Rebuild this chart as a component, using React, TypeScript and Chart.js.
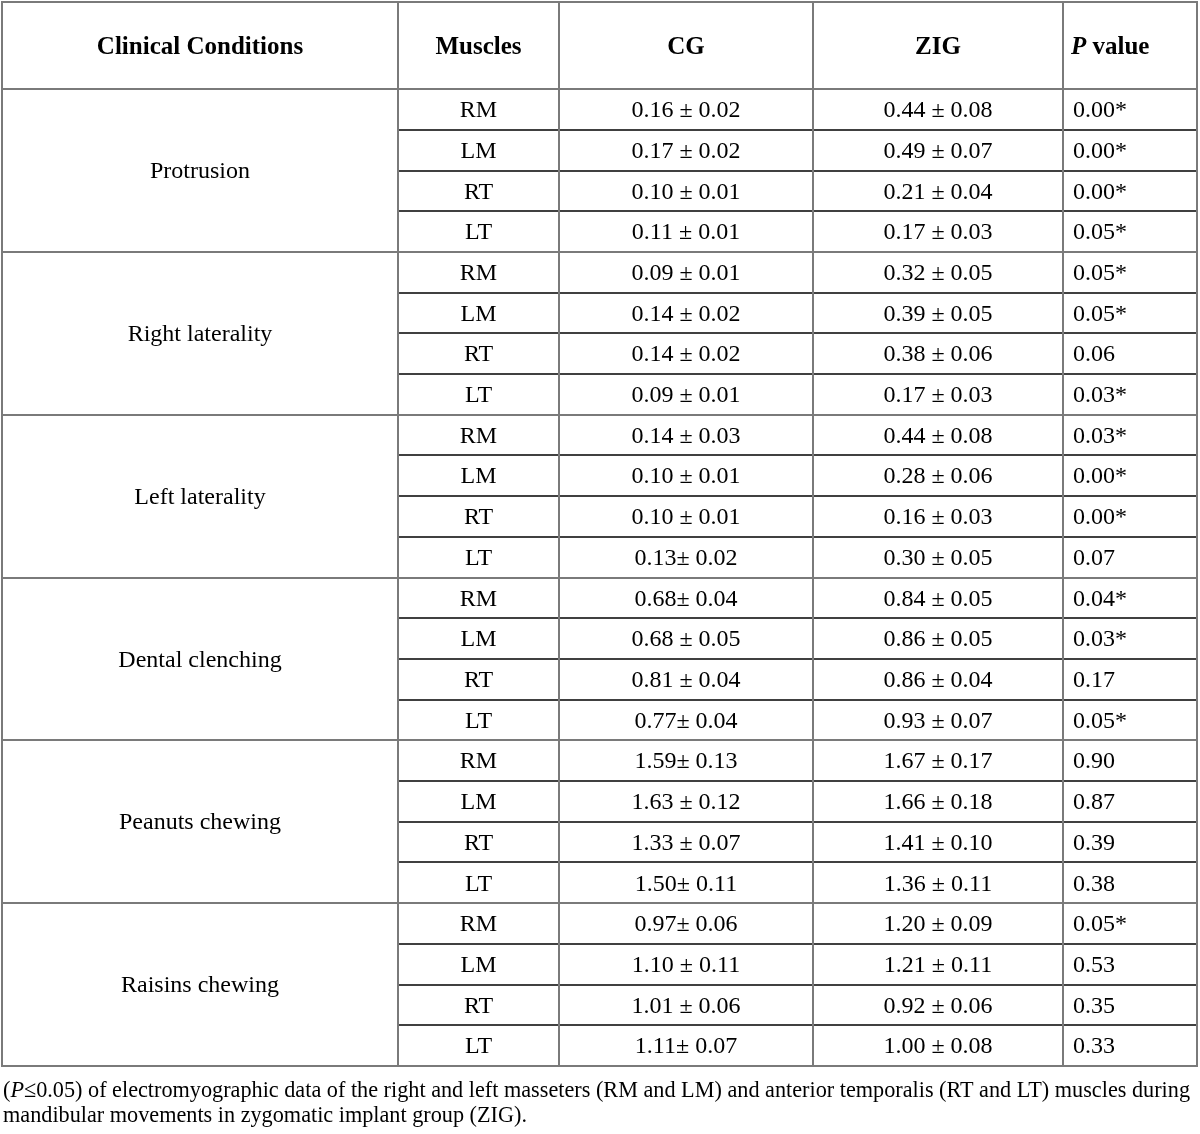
import { useEffect, useRef } from "react";
import { Chart, registerables } from "chart.js";

Chart.register(...registerables);

// ---------- data ----------
const headers = ["Clinical Conditions", "Muscles", "CG", "ZIG", "P value"];
const conditions = [
  "Protrusion",
  "Right laterality",
  "Left laterality",
  "Dental clenching",
  "Peanuts chewing",
  "Raisins chewing",
];
const muscles = ["RM", "LM", "RT", "LT"];
const cgMean = [0.16, 0.17, 0.10, 0.11, 0.09, 0.14, 0.14, 0.09, 0.14, 0.10, 0.10, 0.13, 0.68, 0.68, 0.81, 0.77, 1.59, 1.63, 1.33, 1.50, 0.97, 1.10, 1.01, 1.11];
const cgSd = [0.02, 0.02, 0.01, 0.01, 0.01, 0.02, 0.02, 0.01, 0.03, 0.01, 0.01, 0.02, 0.04, 0.05, 0.04, 0.04, 0.13, 0.12, 0.07, 0.11, 0.06, 0.11, 0.06, 0.07];
const zigMean = [0.44, 0.49, 0.21, 0.17, 0.32, 0.39, 0.38, 0.17, 0.44, 0.28, 0.16, 0.30, 0.84, 0.86, 0.86, 0.93, 1.67, 1.66, 1.41, 1.36, 1.20, 1.21, 0.92, 1.00];
const zigSd = [0.08, 0.07, 0.04, 0.03, 0.05, 0.05, 0.06, 0.03, 0.08, 0.06, 0.03, 0.05, 0.05, 0.05, 0.04, 0.07, 0.17, 0.18, 0.10, 0.11, 0.09, 0.11, 0.06, 0.08];
const pValue = [0.00, 0.00, 0.00, 0.05, 0.05, 0.05, 0.06, 0.03, 0.03, 0.00, 0.00, 0.07, 0.04, 0.03, 0.17, 0.05, 0.90, 0.87, 0.39, 0.38, 0.05, 0.53, 0.35, 0.33];
// CG cells printed as "x.xx± y.yy" (no space before ±)
const cgTight = [11, 12, 15, 16, 19, 20, 23];
const footnoteLine1 = ["(", "P", "≤0.05) of electromyographic data of the right and left masseters (RM and LM) and anterior temporalis (RT and LT) muscles during"];
const footnoteLine2 = "mandibular movements in zygomatic implant group (ZIG).";

// ---------- layout ----------
const colWidths = [396, 161, 254, 250, 134];
const headerRows = 2.14;
const FONT = '"Liberation Serif", "Times New Roman", serif';
const GRAY = "#7a7a7a";

function fmt(m: number, s: number, tight: boolean) {
  return m.toFixed(2) + (tight ? "± " : " ± ") + s.toFixed(2);
}

const tablePlugin = {
  id: "tablePlugin",
  beforeDraw(chart: any) {
    const ctx = chart.ctx;
    ctx.save();
    ctx.fillStyle = "#ffffff";
    ctx.fillRect(0, 0, chart.width, chart.height);
    ctx.restore();
  },
  afterDraw(chart: any) {
    const ctx: CanvasRenderingContext2D = chart.ctx;
    const xs = chart.scales.x;
    const ys = chart.scales.y;
    const edges: number[] = [0];
    colWidths.forEach((w) => edges.push(edges[edges.length - 1] + w));
    const X = edges.map((e) => Math.round(xs.getPixelForValue(e)));
    const Y = (v: number) => ys.getPixelForValue(v);
    const nRows = muscles.length * conditions.length;
    const top = Math.round(Y(-headerRows));
    const bottom = Math.round(Y(nRows));

    ctx.save();
    const hline = (y: number, x0: number, x1: number, color: string, w: number) => {
      ctx.strokeStyle = color;
      ctx.lineWidth = w;
      const yy = w % 2 === 1 ? Math.round(y) + 0.5 : Math.round(y);
      ctx.beginPath();
      ctx.moveTo(x0, yy);
      ctx.lineTo(x1, yy);
      ctx.stroke();
    };
    const vline = (x: number, y0: number, y1: number, color: string, w: number) => {
      ctx.strokeStyle = color;
      ctx.lineWidth = w;
      const xx = w % 2 === 1 ? Math.round(x) + 0.5 : Math.round(x);
      ctx.beginPath();
      ctx.moveTo(xx, y0);
      ctx.lineTo(xx, y1);
      ctx.stroke();
    };

    // inner row lines (black) in columns 2..5
    for (let r = 1; r < nRows; r++) {
      if (r % muscles.length === 0) continue;
      hline(Y(r), X[1], X[5], "#000000", 1.5);
    }
    // group separators & header line
    for (let g = 0; g <= conditions.length; g++) {
      hline(Y(g * muscles.length), X[0], X[5], GRAY, 2);
    }
    // vertical lines
    for (let c = 1; c < X.length - 1; c++) {
      vline(X[c], top, bottom, GRAY, 2);
    }
    // outer border
    hline(top, X[0] - 1, X[5] + 1, GRAY, 2);
    hline(bottom, X[0] - 1, X[5] + 1, GRAY, 2);
    vline(X[0], top, bottom, GRAY, 2);
    vline(X[5], top, bottom, GRAY, 2);

    const size = 24;
    const bsize = 25;
    const capOff = size * 0.32;
    ctx.fillStyle = "#000000";
    ctx.textBaseline = "alphabetic";

    // header
    const hy = (Y(-headerRows) + Y(0)) / 2 + bsize * 0.32;
    ctx.font = `bold ${bsize}px ${FONT}`;
    ctx.textAlign = "center";
    for (let c = 0; c < 4; c++) {
      ctx.fillText(headers[c], (X[c] + X[c + 1]) / 2, hy);
    }
    ctx.textAlign = "left";
    const px = X[4] + 8;
    ctx.font = `italic bold ${bsize}px ${FONT}`;
    ctx.fillText("P", px, hy);
    const pw = ctx.measureText("P").width;
    ctx.font = `bold ${bsize}px ${FONT}`;
    ctx.fillText(headers[4].slice(1), px + pw, hy);

    // body
    ctx.font = `${size}px ${FONT}`;
    conditions.forEach((cond, g) => {
      ctx.textAlign = "center";
      const gy = Y(g * muscles.length + muscles.length / 2) + capOff;
      ctx.fillText(cond, (X[0] + X[1]) / 2, gy);
    });
    for (let r = 0; r < nRows; r++) {
      const cy = Y(r + 0.5) + capOff;
      ctx.textAlign = "center";
      ctx.fillText(muscles[r % muscles.length], (X[1] + X[2]) / 2, cy);
      ctx.fillText(fmt(cgMean[r], cgSd[r], cgTight.includes(r)), (X[2] + X[3]) / 2, cy);
      ctx.fillText(fmt(zigMean[r], zigSd[r], false), (X[3] + X[4]) / 2, cy);
      ctx.textAlign = "left";
      ctx.fillText(pValue[r].toFixed(2) + (pValue[r] <= 0.05 ? "*" : ""), X[4] + 10, cy);
    }

    // footnote
    const fx = 3;
    const targetW = 1187;
    ctx.textAlign = "left";
    const fonts = [`${size}px ${FONT}`, `italic ${size}px ${FONT}`, `${size}px ${FONT}`];
    let total = 0;
    const widths = footnoteLine1.map((t, i) => {
      ctx.font = fonts[i];
      const w = ctx.measureText(t).width;
      total += w;
      return w;
    });
    const sx = Math.min(1, targetW / total);
    const f1 = bottom + 31;
    const f2 = bottom + 56;
    ctx.save();
    ctx.translate(fx, 0);
    ctx.scale(sx, 1);
    let cx = 0;
    footnoteLine1.forEach((t, i) => {
      ctx.font = fonts[i];
      ctx.fillText(t, cx, f1);
      cx += widths[i];
    });
    ctx.font = fonts[0];
    ctx.fillText(footnoteLine2, 0, f2);
    ctx.restore();

    ctx.restore();
  },
};

export default function App() {
  const ref = useRef<HTMLCanvasElement | null>(null);
  useEffect(() => {
    if (!ref.current) return;
    const total = colWidths.reduce((a, b) => a + b, 0);
    const chart = new Chart(ref.current, {
      type: "scatter",
      data: { datasets: [] },
      options: {
        responsive: false,
        animation: false,
        devicePixelRatio: 1,
        layout: { padding: { left: 2, top: 2, right: 3, bottom: 68 } },
        plugins: { legend: { display: false }, tooltip: { enabled: false } },
        scales: {
          x: { type: "linear", min: 0, max: total, display: false },
          y: { type: "linear", min: -headerRows, max: muscles.length * conditions.length, reverse: true, display: false },
        },
      },
      plugins: [tablePlugin],
    } as any);
    return () => chart.destroy();
  }, []);
  return (
    <div style={{ position: "absolute", left: 0, top: 0, width: 1200, height: 1134, background: "#fff" }}>
      <canvas ref={ref} width={1200} height={1134} style={{ display: "block" }} />
    </div>
  );
}
